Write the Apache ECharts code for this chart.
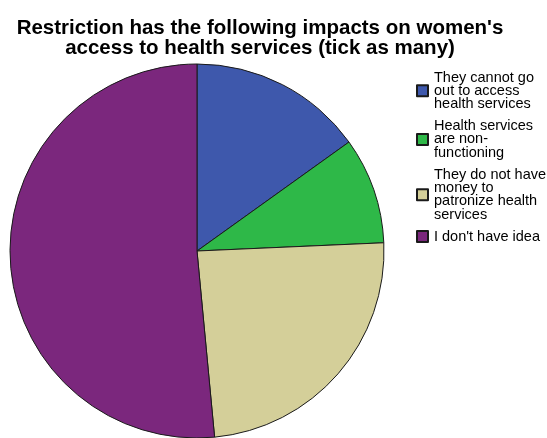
<!DOCTYPE html>
<html>
<head>
<meta charset="utf-8">
<script src="https://cdn.jsdelivr.net/npm/echarts@6/dist/echarts.min.js"></script>
<style>
  html, body { margin: 0; padding: 0; background: #fff; }
  #chart { width: 547px; height: 438px; }
</style>
</head>
<body>
<div id="chart"></div>
<script>
// categories and shares (percent)
var categories = [
    'They cannot go out to access health services',
    'Health services are non-functioning',
    'They do not have money to patronize health services',
    "I don't have idea"
];
var legendLabels = [
    'They cannot go\nout to access\nhealth services',
    'Health services\nare non-\nfunctioning',
    'They do not have\nmoney to\npatronize health\nservices',
    "I don't have idea"
];
var shares = [15.1, 9.2, 24.2, 51.5];
var colors = ['#3E58AC', '#2EB848', '#D4CF99', '#7B277D'];

(function () {
    var myChart = echarts.init(document.getElementById('chart'));

    var data = categories.map(function (name, i) {
        return { name: name, value: shares[i], itemStyle: { color: colors[i] } };
    });

    var option = {
        animation: false,
        textStyle: { fontFamily: 'Liberation Sans, Arial, sans-serif' },
        title: {
            text: "Restriction has the following impacts on women's\naccess to health services (tick as many)",
            left: 255,
            top: 13,
            textAlign: 'center',
            textStyle: {
                fontSize: 20.5,
                fontWeight: 'bold',
                color: '#000',
                lineHeight: 20
            }
        },
        legend: {
            orient: 'vertical',
            left: 411,
            top: 65,
            itemWidth: 11,
            itemHeight: 11,
            itemGap: 7,
            icon: 'rect',
            data: categories,
            formatter: function (name) {
                return legendLabels[categories.indexOf(name)];
            },
            textStyle: {
                fontSize: 14.5,
                lineHeight: 13.3,
                color: '#000',
                padding: [0, 0, 0, 1]
            }
        },
        series: [
            {
                type: 'pie',
                center: [197, 251],
                radius: 187,
                startAngle: 90,
                clockwise: true,
                label: { show: false },
                labelLine: { show: false },
                itemStyle: { borderColor: '#1a1a1a', borderWidth: 1 },
                emphasis: { disabled: true },
                data: data
            }
        ]
    };

    myChart.setOption(option);
})();
</script>
</body>
</html>
